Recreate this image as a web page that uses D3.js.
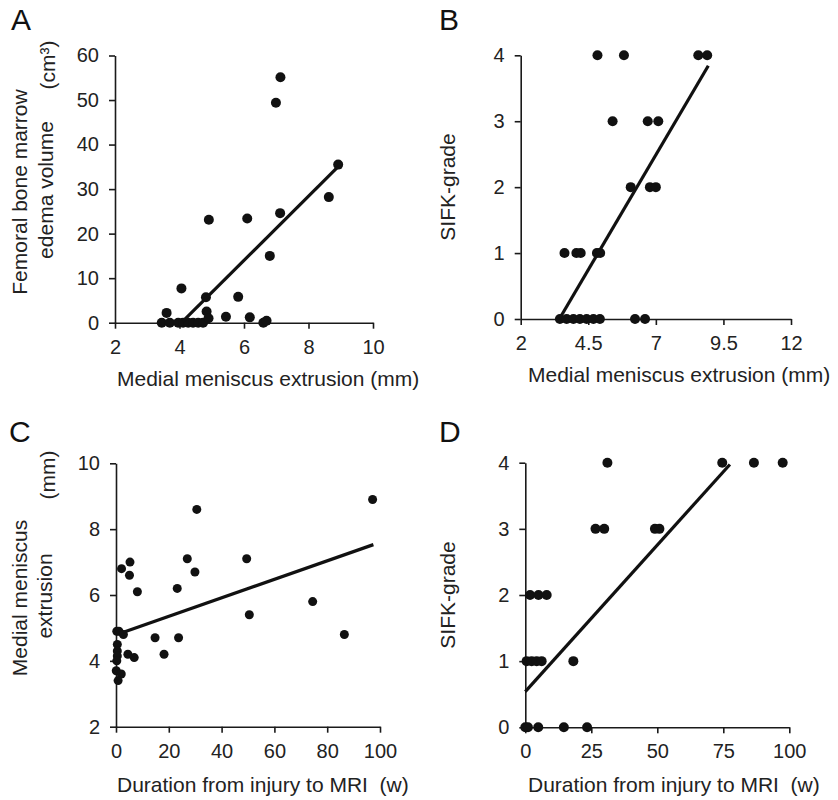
<!DOCTYPE html>
<html>
<head>
<meta charset="utf-8">
<script src="https://cdn.jsdelivr.net/npm/d3@7"></script>
<style>
  body { margin: 0; background: #fff; }
  svg { font-family: "Liberation Sans", Arial, Helvetica, sans-serif; }
  .axis path, .axis line { stroke: #1a1a1a; stroke-width: 1.6; }
  .axis text { font-size: 20px; fill: #222; }
  .title { font-size: 21px; fill: #222; white-space: pre; }
  .letter { font-size: 30px; fill: #111; }
</style>
</head>
<body>
<script>
// A: extrusion (mm) vs femoral bone marrow edema volume (cm3)
var aExtrusion = [3.45, 3.6, 3.7, 3.96, 4.11, 4.27, 4.42, 4.58, 4.73, 4.84, 4.9, 4.06, 4.82, 4.91, 5.44, 5.82, 6.1, 6.18, 6.6, 6.7, 6.8, 6.99, 7.13, 7.12, 8.63, 8.92];
var aEdema     = [0, 2.2, 0, 0, 0, 0, 0, 0, 0, 2.5, 1.0, 7.7, 5.7, 23.1, 1.35, 5.8, 23.4, 1.2, 0, 0.45, 15.0, 49.4, 55.1, 24.6, 28.2, 35.5];
var aFit = [7.2, -29.2], aFitRange = [4.1, 8.92];
var aXTicks = [2, 4, 6, 8, 10], aYTicks = [0, 10, 20, 30, 40, 50, 60];

// B: extrusion (mm) vs SIFK grade
var bExtrusion = [4.84, 5.82, 8.57, 8.9, 5.4, 6.7, 7.09, 6.07, 6.78, 7.0, 3.62, 4.06, 4.22, 4.82, 4.94, 3.45, 3.7, 3.95, 4.19, 4.44, 4.69, 4.93, 6.23, 6.6];
var bGrade     = [4, 4, 4, 4, 3, 3, 3, 2, 2, 2, 1, 1, 1, 1, 1, 0, 0, 0, 0, 0, 0, 0, 0, 0];
var bFit = [0.697, -2.39], bFitRange = [3.43, 8.94];
var bXTicks = [2, 4.5, 7, 9.5, 12], bYTicks = [0, 1, 2, 3, 4];

// C: duration (w) vs extrusion (mm)
var cDuration  = [0.3, 1.1, 2.8, 0.5, 0.5, 0.5, 0.3, 0.1, 2.0, 0.8, 4.5, 6.9, 14.8, 18.2, 23.7, 86.5, 50.5, 74.5, 8.1, 23.2, 5.1, 29.9, 2.1, 5.3, 27.0, 49.5, 30.6, 97.2];
var cExtrusion = [4.9, 4.9, 4.8, 4.5, 4.3, 4.15, 4.0, 3.7, 3.6, 3.4, 4.2, 4.1, 4.7, 4.2, 4.7, 4.8, 5.4, 5.8, 6.1, 6.2, 6.6, 6.7, 6.8, 7.0, 7.1, 7.1, 8.6, 8.9];
var cFit = [0.0281, 4.79], cFitRange = [2.8, 97.5];
var cXTicks = [0, 20, 40, 60, 80, 100], cYTicks = [2, 4, 6, 8, 10];

// D: duration (w) vs SIFK grade
var dDuration = [31.1, 74.6, 86.6, 97.5, 26.6, 29.9, 49.1, 50.8, 1.8, 5.0, 8.1, 0.5, 2.4, 4.3, 6.2, 18.2, 0, 1.0, 4.9, 14.6, 23.4];
var dGrade    = [4, 4, 4, 4, 3, 3, 3, 3, 2, 2, 2, 1, 1, 1, 1, 1, 0, 0, 0, 0, 0];
var dFit = [0.0443, 0.54], dFitRange = [0, 77.5];
var dXTicks = [0, 25, 50, 75, 100], dYTicks = [0, 1, 2, 3, 4];

var svg = d3.select("body").append("svg")
    .attr("width", 838)
    .attr("height", 800);

function panel(p) {
  var x = d3.scaleLinear().domain(p.xDomain).range(p.xRange);
  var y = d3.scaleLinear().domain(p.yDomain).range(p.yRange);
  var g = svg.append("g");

  g.append("g")
      .attr("class", "axis")
      .attr("transform", "translate(0," + p.yRange[0] + ")")
      .call(d3.axisBottom(x).tickValues(p.xTicks).tickFormat(function(d) { return d; })
        .tickSize(6).tickSizeOuter(0).tickPadding(11));

  g.append("g")
      .attr("class", "axis")
      .attr("transform", "translate(" + p.xRange[0] + ",0)")
      .call(d3.axisLeft(y).tickValues(p.yTicks).tickFormat(function(d) { return d; })
        .tickSize(6).tickSizeOuter(0).tickPadding(10));

  g.selectAll(".dot")
      .data(p.xs)
      .enter().append("circle")
      .attr("cx", function(d) { return x(d); })
      .attr("cy", function(d, i) { return y(p.ys[i]); })
      .attr("r", p.r)
      .attr("fill", "#111");

  // regression line
  var fitLine = d3.line()
      .x(function(d) { return x(d); })
      .y(function(d) { return y(p.fit[0] * d + p.fit[1]); });
  g.append("path")
      .datum(p.fitRange)
      .attr("d", fitLine)
      .attr("fill", "none")
      .attr("stroke", "#111")
      .attr("stroke-width", 3.2);

  g.append("text")
      .attr("class", "letter")
      .attr("x", p.letterPos[0])
      .attr("y", p.letterPos[1])
      .text(p.letter);

  g.append("text")
      .attr("class", "title")
      .attr("x", p.xTitlePos[0])
      .attr("y", p.xTitlePos[1])
      .text(p.xTitle);

  p.yTitles.forEach(function(t) {
    g.append("text")
        .attr("class", "title")
        .attr("text-anchor", "middle")
        .attr("transform", "translate(" + t[1] + "," + t[2] + ") rotate(-90)")
        .text(t[0]);
  });
}

panel({
  letter: "A", letterPos: [11, 30],
  xs: aExtrusion, ys: aEdema, r: 5, fit: aFit, fitRange: aFitRange,
  xDomain: [2, 10], xRange: [115, 373], yDomain: [0, 60], yRange: [322.7, 55.5],
  xTicks: aXTicks, yTicks: aYTicks,
  xTitle: "Medial meniscus extrusion (mm)", xTitlePos: [117, 386],
  yTitles: [["Femoral bone marrow", 27, 192], ["edema volume", 53, 190], ["(cm\u00b3)", 55, 65]]
});

panel({
  letter: "B", letterPos: [439, 30],
  xs: bExtrusion, ys: bGrade, r: 5, fit: bFit, fitRange: bFitRange,
  xDomain: [2, 12], xRange: [520.7, 791], yDomain: [0, 4], yRange: [319, 55.3],
  xTicks: bXTicks, yTicks: bYTicks,
  xTitle: "Medial meniscus extrusion (mm)", xTitlePos: [528, 382],
  yTitles: [["SIFK-grade", 455, 187]]
});

panel({
  letter: "C", letterPos: [9, 442],
  xs: cDuration, ys: cExtrusion, r: 4.5, fit: cFit, fitRange: cFitRange,
  xDomain: [0, 100], xRange: [116, 380], yDomain: [2, 10], yRange: [726.7, 463.3],
  xTicks: cXTicks, yTicks: cYTicks,
  xTitle: "Duration from injury to MRI  (w)", xTitlePos: [117, 792],
  yTitles: [["Medial meniscus", 27, 598], ["extrusion", 52, 596], ["(mm)", 55, 475]]
});

panel({
  letter: "D", letterPos: [439, 442],
  xs: dDuration, ys: dGrade, r: 5, fit: dFit, fitRange: dFitRange,
  xDomain: [0, 100], xRange: [525.3, 789.3], yDomain: [0, 4], yRange: [727.3, 462.7],
  xTicks: dXTicks, yTicks: dYTicks,
  xTitle: "Duration from injury to MRI  (w)", xTitlePos: [528, 792],
  yTitles: [["SIFK-grade", 455, 595]]
});
</script>
</body>
</html>
